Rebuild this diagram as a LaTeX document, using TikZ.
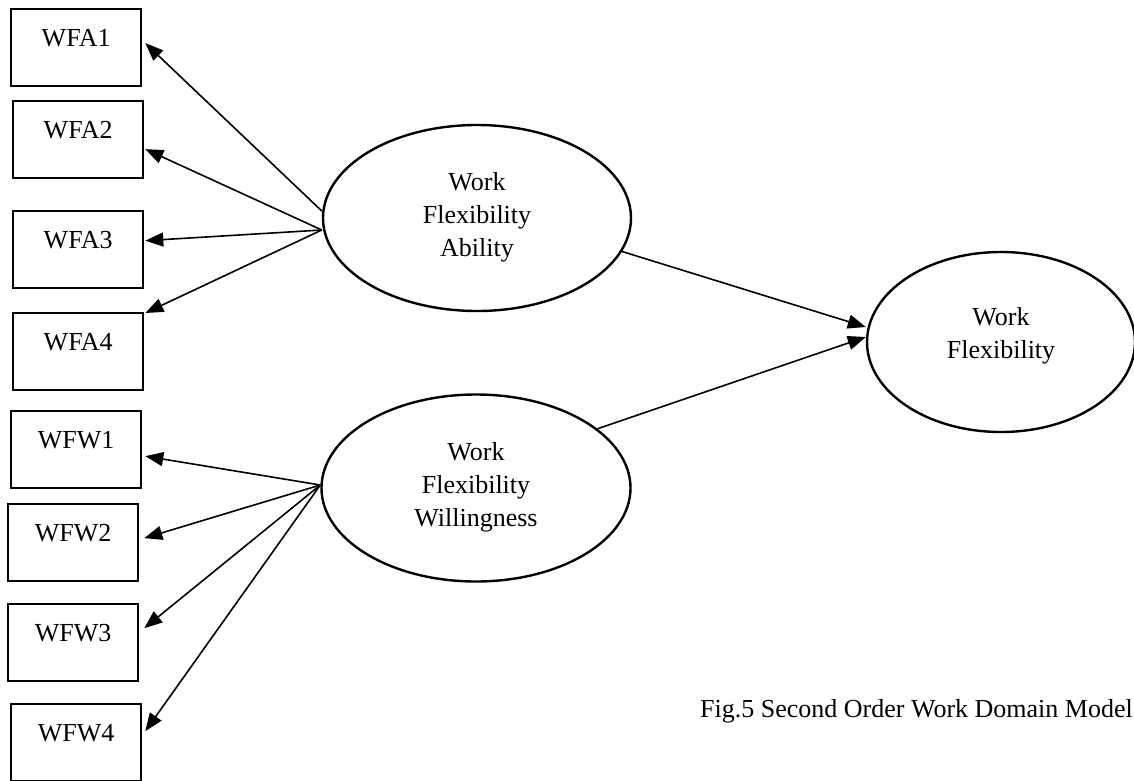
\documentclass[tikz,border=0pt]{standalone}
\usepackage{fontspec}
\setmainfont{Liberation Serif}
\usetikzlibrary{shapes.geometric,arrows.meta,calc}
\begin{document}
\begin{tikzpicture}[x=1pt,y=-1pt,
  obs/.style={draw,line width=2.3pt,rectangle,anchor=north west,minimum width=130pt,
    inner xsep=0pt,inner ysep=0pt,text height=37pt,text depth=40pt,
    font=\fontsize{26}{33}\selectfont},
  lat/.style={draw,line width=2.4pt,ellipse,inner sep=0pt,align=center,
    font=\fontsize{26}{33}\selectfont},
  arr/.style={line width=1.6pt,-{Triangle[length=18pt,width=14pt]}}]
\useasboundingbox (0,0) rectangle (1134,780);

% observed indicators
\node[obs] (wfa1) at (10,8)   {WFA1};
\node[obs] (wfa2) at (12,100) {WFA2};
\node[obs] (wfa3) at (12,210) {WFA3};
\node[obs] (wfa4) at (12,312) {WFA4};
\node[obs] (wfw1) at (10,410) {WFW1};
\node[obs] (wfw2) at (7,503)  {WFW2};
\node[obs] (wfw3) at (7,603)  {WFW3};
\node[obs] (wfw4) at (10,703) {WFW4};

% latent variables
\node[lat,minimum width=308pt,minimum height=186pt] (fwa) at (477,218) {Work\\Flexibility\\Ability\\[-25pt]\mbox{}};
\node[lat,minimum width=309pt,minimum height=187pt] (fww) at (476,488) {Work\\Flexibility\\Willingness\\[-25pt]\mbox{}};
\node[lat,minimum width=268pt,minimum height=180pt] (wf) at (1001,342) {Work\\Flexibility\\[-15pt]\mbox{}};

% caption
\node[anchor=base east,inner sep=0pt,font=\fontsize{26}{33}\selectfont] (cap) at (1133,717)
  {Fig.5 Second Order Work Domain Model};

% loadings
\draw[arr] ([yshift=7pt]fwa.west)   -- ([xshift=3pt,yshift=4.5pt]wfa1.east);
\draw[arr] ([yshift=-12pt]fwa.west) -- ([xshift=1pt,yshift=-9.5pt]wfa2.east);
\draw[arr] ([yshift=-12pt]fwa.west) -- ([xshift=1pt,yshift=9pt]wfa3.east);
\draw[arr] ([yshift=-12pt]fwa.west) -- ([xshift=1pt,yshift=-1pt]wfa4.north east);

\draw[arr] ([yshift=3pt]fww.west) -- ([xshift=3pt,yshift=-6.5pt]wfw1.east);
\draw[arr] ([yshift=3pt]fww.west) -- ([xshift=5pt,yshift=4.5pt]wfw2.east);
\draw[arr] ([yshift=3pt]fww.west) -- ([xshift=5pt,yshift=14.5pt]wfw3.east);
\draw[arr] ([yshift=3pt]fww.west) -- ([xshift=3pt,yshift=11.5pt]wfw4.east);

% structural paths
\draw[arr] (fwa.-13) -- ([yshift=15pt]wf.west);
\draw[arr] (fww.26)  -- ([yshift=5pt]wf.west);
\end{tikzpicture}
\end{document}
